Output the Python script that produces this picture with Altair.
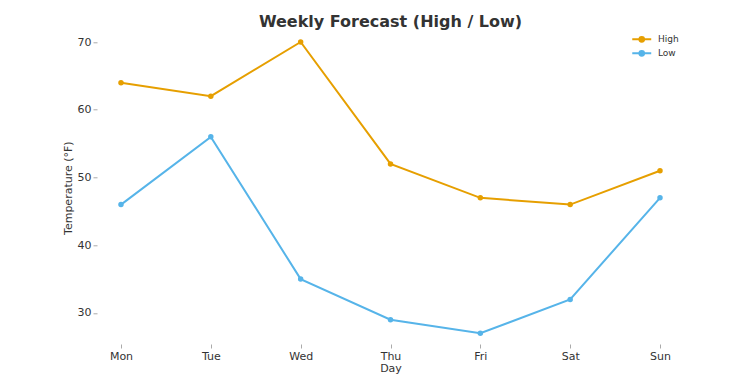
import altair as alt
import pandas as pd

days = ["Mon", "Tue", "Wed", "Thu", "Fri", "Sat", "Sun"]
high = [64, 62, 70, 52, 47, 46, 51]
low = [46, 56, 35, 29, 27, 32, 47]
series = ["High", "Low"]
colors = ["#E69F00", "#56B4E9"]
y_ticks = [30, 40, 50, 60, 70]

rows = []
for d, h, l in zip(days, high, low):
    rows.append({"Day": d, "Series": "High", "Temp": h})
    rows.append({"Day": d, "Series": "Low", "Temp": l})
df = pd.DataFrame(rows)

FONT = "DejaVu Sans"

x = alt.X("Day:N", sort=days, scale=alt.Scale(type="point", padding=0.267),
          axis=alt.Axis(title="Day", labelAngle=0, domain=False, grid=False,
                        tickSize=4, tickColor="#aaaaaa", labelPadding=2,
                        titlePadding=1))
y = alt.Y("Temp:Q", scale=alt.Scale(domain=[25.42, 71.58], nice=False, zero=False),
          axis=alt.Axis(title="Temperature (°F)", values=y_ticks, domain=False,
                        grid=False, tickSize=4, tickColor="#aaaaaa", labelPadding=2,
                        titlePadding=4))
color = alt.Color("Series:N", scale=alt.Scale(domain=series, range=colors),
                  legend=alt.Legend(title=None, orient="none", legendX=534, legendY=2,
                                    symbolType="M-1,0L3,0M0.5,0A0.5,0.5,0,1,1,1.5,0A0.5,0.5,0,1,1,0.5,0",
                                    symbolSize=90, symbolStrokeWidth=2,
                                    labelFontSize=9, labelColor="#333333",
                                    labelFont=FONT, rowPadding=0, labelOffset=15))

base = alt.Chart(df)
lines = base.mark_line(strokeWidth=2).encode(x=x, y=y, color=color)
points = base.mark_point(filled=True, size=30, opacity=1).encode(x=x, y=y, color=color)

chart = alt.layer(lines, points).properties(
    width=587, height=312.7,
    title=alt.Title("Weekly Forecast (High / Low)", fontSize=16, fontWeight="bold",
                    color="#333333", font=FONT, anchor="middle", offset=1),
    autosize=alt.AutoSizeParams(type="none"),
    padding={"left": 89, "top": 23.3, "right": 50, "bottom": 31},
).configure_view(stroke=None).configure_axis(
    labelFont=FONT, titleFont=FONT, labelFontSize=11, titleFontSize=11,
    labelColor="#333333", titleColor="#333333", titleFontWeight="normal",
)

chart.save("out.html", embed_options={"renderer": "svg", "actions": False})
